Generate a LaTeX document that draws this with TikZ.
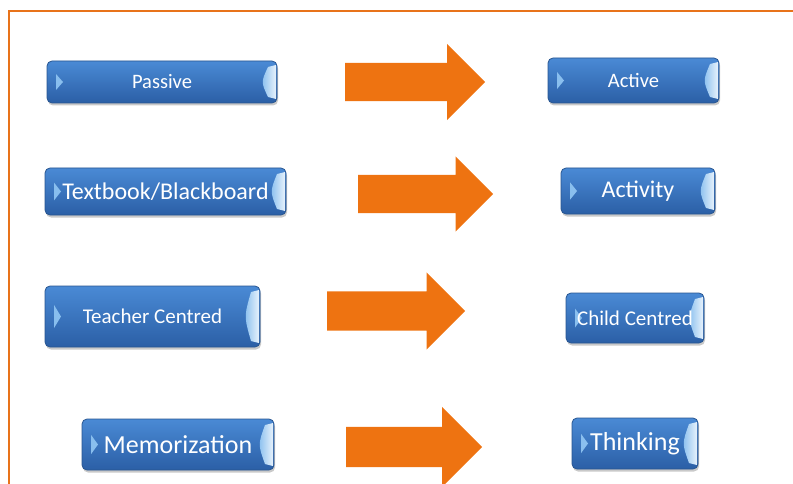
\documentclass[tikz,border=0pt]{standalone}
\usepackage{fontspec}
\setmainfont{Carlito}
\usepackage{tikz}
\usetikzlibrary{shapes.arrows, shadows, calc}
\definecolor{tiletop}{HTML}{4A8AD5}
\definecolor{tilemid}{HTML}{3C7BC8}
\definecolor{tilebot}{HTML}{2B5FA6}
\definecolor{tileedge}{HTML}{285590}
\definecolor{bevel}{HTML}{86BDEE}
\definecolor{arroworange}{HTML}{EE7311}
\definecolor{frameorange}{HTML}{E8731A}

\begin{document}
\begin{tikzpicture}[x=1pt, y=-1pt,
    tile/.style={draw=tileedge, line width=0.8pt, rounded corners=5pt,
        top color=tiletop, middle color=tilemid, bottom color=tilebot,
        text=white, inner sep=0pt, font=\fontsize{#1}{#1}\selectfont,
        drop shadow={shadow xshift=1pt, shadow yshift=-2.5pt, opacity=0.3, fill=black!70},
        path picture={
            \shade[sharp corners, left color=bevel, right color=bevel!60!white]
                ([xshift=9pt]$(path picture bounding box.west)!0.38!(path picture bounding box.north west)$) --
                ([xshift=16pt]path picture bounding box.west) --
                ([xshift=9pt]$(path picture bounding box.west)!0.38!(path picture bounding box.south west)$) -- cycle;
            \shade[sharp corners, left color=bevel, right color=white!80!bevel]
                ([xshift=-1pt,yshift=-4pt]path picture bounding box.north east) --
                ([xshift=-9pt,yshift=-6pt]path picture bounding box.north east) .. controls
                ([xshift=-16pt]path picture bounding box.east) ..
                ([xshift=-9pt,yshift=6pt]path picture bounding box.south east) --
                ([xshift=-1pt,yshift=4pt]path picture bounding box.south east) -- cycle;
        }},
    blockarrow/.style={single arrow, fill=arroworange, draw=none, inner xsep=0pt,
        single arrow tip angle=90, anchor=tail}]
    \useasboundingbox (0,0) rectangle (793,484);

    % frame
    \draw[frameorange, line width=1.6pt] (9,484) -- (9,11) -- (793,11);

    % old way
    \node[tile=20.5, minimum width=230pt, minimum height=42pt] (passive) at (162,82) {Passive};
    \node[tile=24, minimum width=241pt, minimum height=47pt] (textbook) at (165.5,191.5) {Textbook/Blackboard};
    \node[tile=21, minimum width=215pt, minimum height=61pt] (teacher) at (152.5,316.5) {Teacher Centred};
    \node[tile=26, minimum width=192pt, minimum height=51pt] (memo) at (178,444.5) {Memorization};

    % new way
    \node[tile=20.5, minimum width=171pt, minimum height=45pt] (active) at (633.5,80.5) {Active};
    \node[tile=24, minimum width=154pt, minimum height=46pt] (activity) at (638,191) {Activity};
    \node[tile=21, minimum width=138pt, minimum height=50pt] (child) at (635,318) {Child Centred};
    \node[tile=26, minimum width=126pt, minimum height=51pt] (thinking) at (635,443.5) {Thinking};

    % arrows
    \node[blockarrow, minimum height=140pt, inner ysep=19pt, single arrow head extend=19pt] (go1) at (345,82) {};
    \node[blockarrow, minimum height=135pt, inner ysep=19pt, single arrow head extend=18.5pt] (go2) at (358,194) {};
    \node[blockarrow, minimum height=138pt, inner ysep=19.5pt, single arrow head extend=19pt] (go3) at (327,311) {};
    \node[blockarrow, minimum height=136pt, inner ysep=20pt, single arrow head extend=20pt] (go4) at (346,447) {};
\end{tikzpicture}
\end{document}
